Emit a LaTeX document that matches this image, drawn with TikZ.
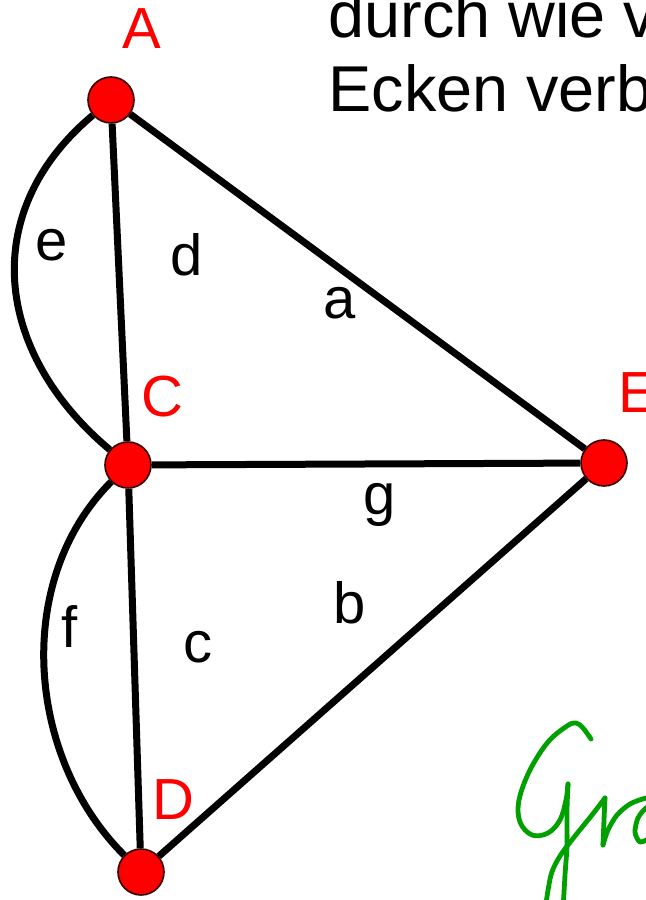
\documentclass[tikz,border=0pt]{standalone}
\usepackage{fontspec}
\setmainfont{Liberation Sans}
\usetikzlibrary{positioning}
\definecolor{eckrot}{RGB}{255,0,0}
\definecolor{stiftgruen}{RGB}{0,160,0}
\tikzset{
	ecke/.style = {
		circle, 
		fill=eckrot, 
		draw=black!80!red, 
		line width=0.8pt, 
		minimum size=23pt, 
		inner sep=0pt
	},
	kante/.style = {
		line width=3.5pt, 
		black
	},
	eckname/.style = {
		text=eckrot, 
		font=\fontsize{29}{29}\selectfont, 
		inner sep=0pt
	},
	kantenname/.style = {
		font=\fontsize{29}{29}\selectfont, 
		inner sep=0pt
	},
	schrift/.style = {
		font=\fontsize{32.4}{32.4}\selectfont, 
		inner sep=0pt, 
		anchor=base west
	},
	stift/.style = {
		stiftgruen, 
		line width=2.4pt, 
		line cap=round, 
		line join=round
	}
}

\begin{document}
\begin{tikzpicture}[x=0.5pt, y=0.5pt]
		
		% --- Rahmen ---
		\useasboundingbox (0,0) rectangle (646,900);
		\clip (0,0) rectangle (646,900);
		
		% --- ECKEN ---
		\node [ecke] (A) at (111,800) {};
		\node [ecke] (C) at (128,435) {};
		\node [ecke] (E) at (604,437) {};
		\node [ecke] (D) at (141,28) {};
		
		% Namen der Ecken
		\node [eckname] (nameA) at (142,871) {A};
		\node [eckname] (nameC) at (162,503) {C};
		\node [eckname, anchor=west] (nameE) at (618,507) {E};
		\node [eckname] (nameD) at (173,100) {D};
		
		% --- KANTEN ---
		\draw [kante] (A) -- (E);
		\draw [kante] (A) -- (C);
		\draw [kante] (C) -- (E);
		\draw [kante] (C) -- (D);
		\draw [kante] (D) -- (E);
		% Doppelkanten links (gebogen)
		\draw [kante] (A) to[out=220, in=140, looseness=1.15] (C);
		\draw [kante] (C) to[out=225, in=135, looseness=0.95] (D);
		
		% Namen der Kanten
		\node [kantenname] (ka) at (340,597) {a};
		\node [kantenname] (kb) at (350,297) {b};
		\node [kantenname] (kc) at (198,253) {c};
		\node [kantenname] (kd) at (187,645) {d};
		\node [kantenname] (ke) at (52,655) {e};
		\node [kantenname] (kf) at (70,273) {f};
		\node [kantenname] (kg) at (380,395) {g};
		
		% --- TEXT OBEN RECHTS ---
		\node [schrift] (zeile1) at (328,862) {durch wie v};
		\node [schrift] (zeile2) at (328,788) {Ecken verb};
		
		% --- Handschrift unten rechts ---
		\draw [stift] plot[smooth, tension=0.6] coordinates {(591,161) (583,172) (576,177) (567,174) (548,158) (530,130) (519,100) (520,78) (532,65) (548,67) (560,80) (566,100) (568,116)};
		\draw [stift] plot[smooth] coordinates {(568,116) (567,90) (567,55) (565,25) (563,-10)};
		\draw [stift] plot[smooth] coordinates {(545,-10) (551,25) (560,44) (575,64) (592,85) (605,102)};
		\draw [stift] plot[smooth] coordinates {(605,102) (604,80) (603,55)};
		\draw [stift] plot[smooth] coordinates {(603,55) (608,70) (617,85) (630,96) (646,102) (660,104)};
		\draw [stift] plot[smooth] coordinates {(655,96) (646,92) (638,82) (635,68) (640,58) (650,62)};
		
	\end{tikzpicture}
\end{document}
